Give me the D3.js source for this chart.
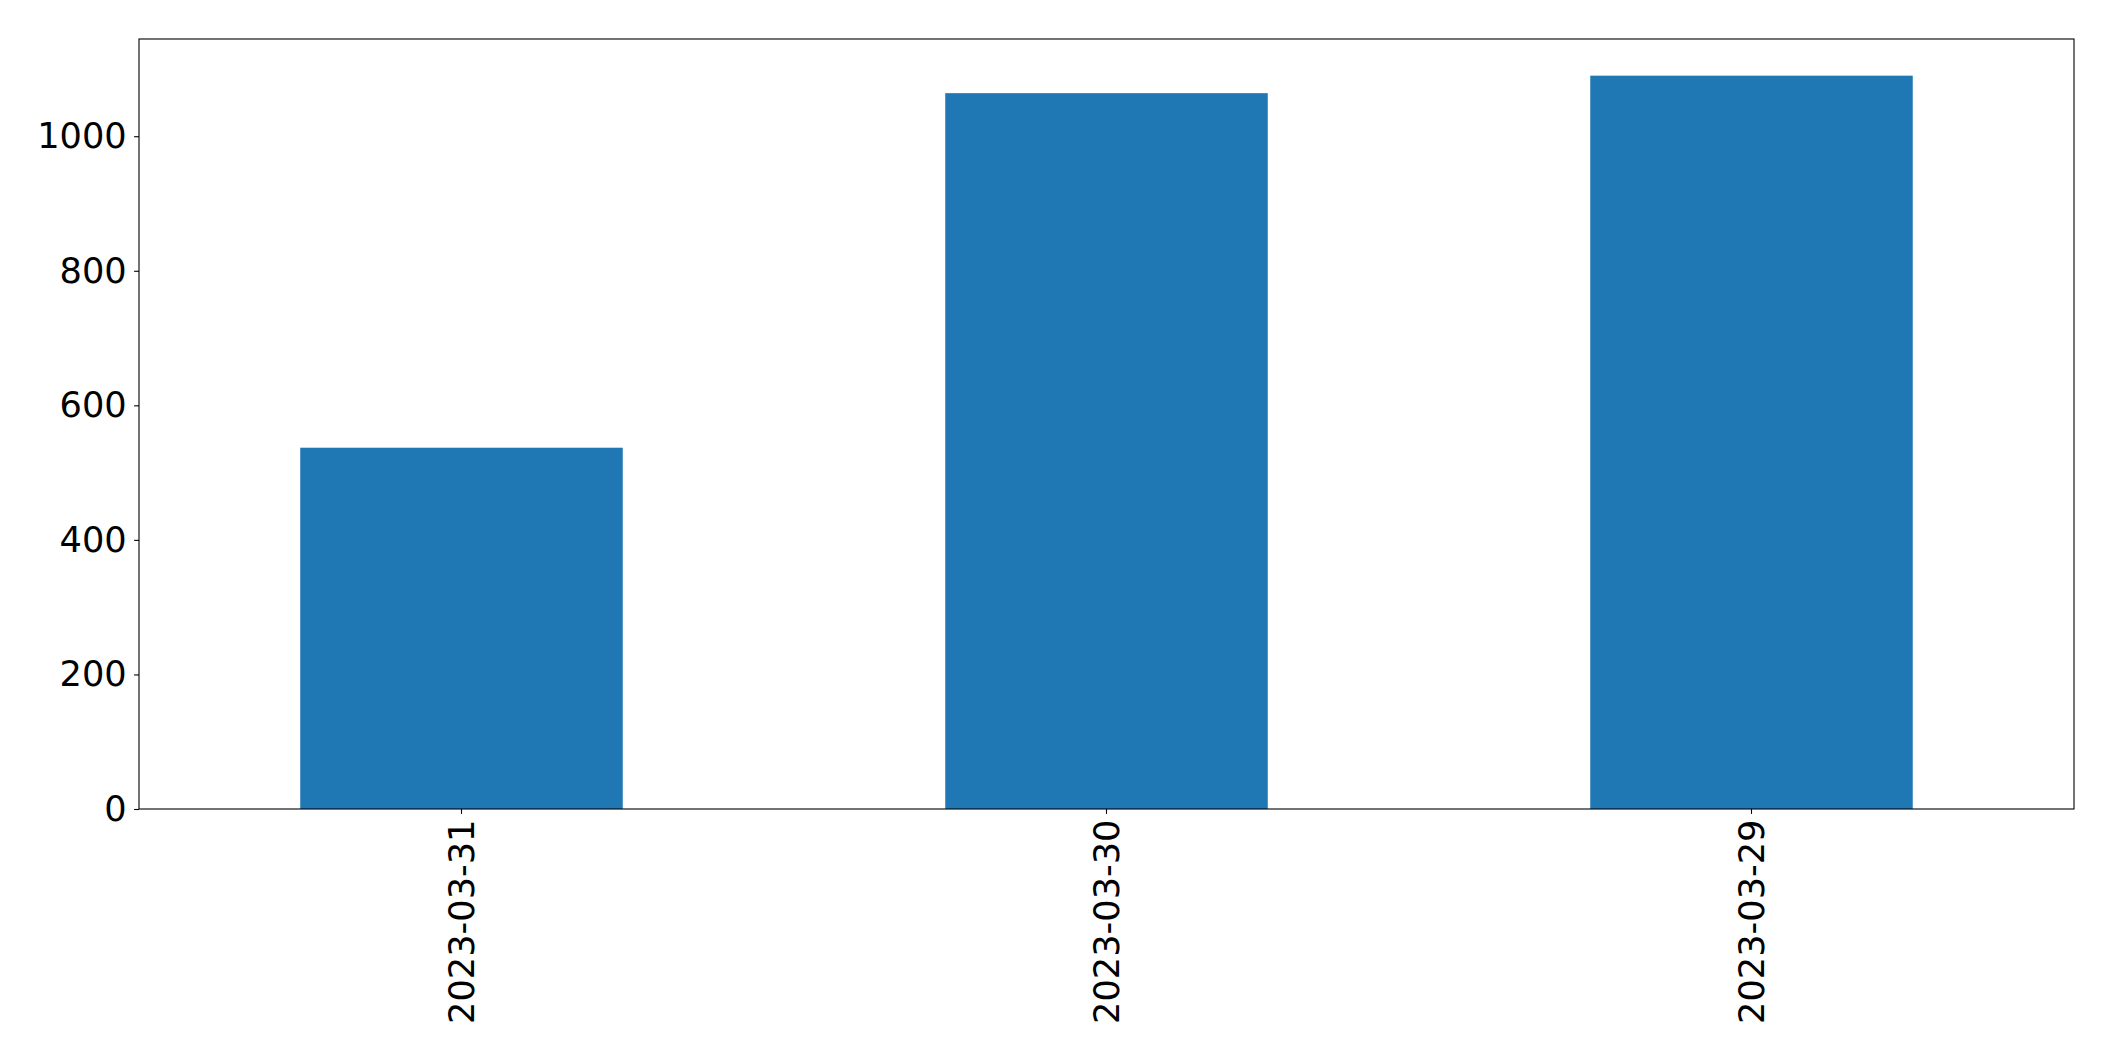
<!DOCTYPE html>
<html><head><meta charset="utf-8">
<script src="https://cdn.jsdelivr.net/npm/d3@7"></script>
<style>html,body{margin:0;padding:0;background:#fff;overflow:hidden}</style>
</head><body>
<svg id="chart" width="2115" height="1061"></svg>
<script>
const categories = ["2023-03-31", "2023-03-30", "2023-03-29"];
const values = [537, 1064, 1090];
const yTicks = [0, 200, 400, 600, 800, 1000];

const W = 2115, H = 1061;
const m = {left: 139, right: W - 2074, top: 39, bottom: H - 809};
const svg = d3.select("#chart");
const iw = W - m.left - m.right, ih = H - m.top - m.bottom;
const g = svg.append("g").attr("transform", `translate(${m.left},${m.top})`);

const x = d3.scaleBand().domain(categories).range([0, iw]).paddingInner(0.5).paddingOuter(0.25);
const y = d3.scaleLinear().domain([0, d3.max(values) * 1.05]).range([ih, 0]);

g.selectAll("rect.bar").data(values).join("rect")
  .attr("class", "bar")
  .attr("x", (d, i) => x(categories[i]))
  .attr("width", x.bandwidth())
  .attr("y", d => y(d))
  .attr("height", d => ih - y(d))
  .attr("fill", "#1f77b4");

const font = "'DejaVu Sans', sans-serif";
const fs = 35.2;

const yAxis = g.append("g").call(d3.axisLeft(y).tickValues(yTicks).tickSize(4.9).tickPadding(7.4).tickFormat(d3.format("d")));
yAxis.select(".domain").remove();
yAxis.selectAll("text").attr("font-family", font).attr("font-size", fs).attr("fill", "#000");
yAxis.selectAll("line").attr("stroke", "#000").attr("stroke-width", 1.1);

const xAxis = g.append("g").attr("transform", `translate(0,${ih})`).call(d3.axisBottom(x).tickSize(4.9).tickPadding(4.9));
xAxis.select(".domain").remove();
xAxis.selectAll("line").attr("stroke", "#000").attr("stroke-width", 1.1);
xAxis.selectAll("text")
  .attr("font-family", font).attr("font-size", fs).attr("fill", "#000")
  .attr("transform", "rotate(-90)")
  .attr("text-anchor", "end")
  .attr("x", -10.5).attr("y", 0).attr("dy", "0.35em");

g.append("rect").attr("x", 0).attr("y", 0).attr("width", iw).attr("height", ih)
  .attr("fill", "none").attr("stroke", "#000").attr("stroke-width", 1.1);
</script>
</body></html>
